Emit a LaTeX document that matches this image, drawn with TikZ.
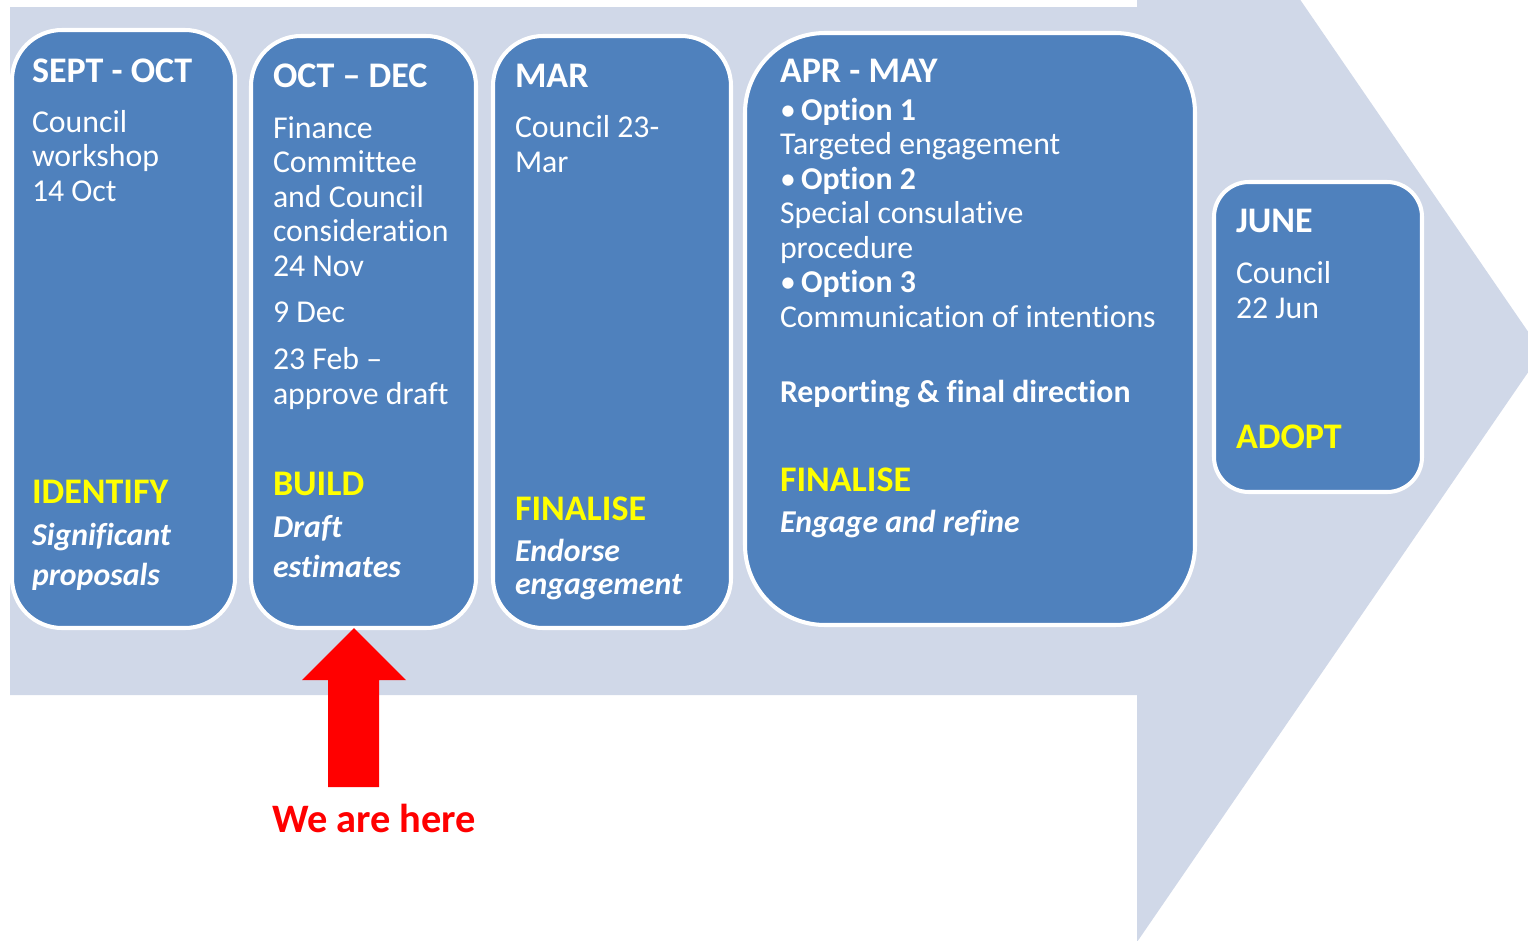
\documentclass[tikz,border=0pt]{standalone}
\usepackage{fontspec}
\setmainfont{Carlito}[Ligatures=NoCommon]
\newcommand{\bodysize}{\fontsize{18.1pt}{19.6pt}\selectfont}
\newcommand{\headsize}{\fontsize{20.5pt}{22pt}\selectfont}
\newcommand{\aimsize}{\fontsize{18.1pt}{22.7pt}\selectfont}
\newcommand{\opt}[1]{\textbullet\hspace{3pt}\textbf{#1}}

\begin{document}
\begin{tikzpicture}[x=0.02cm,y=-0.02cm,
	stagebox/.style={draw=white,line width=2.3pt,fill=boxblue},
	txt/.style={anchor=base west,inner sep=0pt,outer sep=0pt,align=left,text=white,font=\bodysize},
	head/.style={txt,font=\headsize\bfseries},
	goal/.style={txt,font=\headsize\bfseries,text=goalyellow},
	aim/.style={txt,font=\aimsize\bfseries\itshape}]
	\definecolor{arrowgrey}{HTML}{D0D8E8}
	\definecolor{boxblue}{HTML}{4F81BD}
	\definecolor{goalyellow}{HTML}{FFFF00}
	\useasboundingbox (0,0) rectangle (1528,940);
	\fill[white] (0,0) rectangle (1528,940);
	
	% big timeline arrow
	\begin{scope}
		\clip (0,0) rectangle (1528,940);
		\fill[arrowgrey] (10,7) -- (1137,7) -- (1137,-238) -- (1542,352) -- (1137,942) -- (1137,695) -- (10,695) -- cycle;
	\end{scope}
	
	% stages
	\draw[stagebox,rounded corners=1cm] (12,30) rectangle (235,628);
	\draw[stagebox,rounded corners=1cm] (251,36) rectangle (476,628);
	\draw[stagebox,rounded corners=1cm] (493,36) rectangle (731,628);
	\draw[stagebox,rounded corners=1.6cm] (745,33) rectangle (1195,625);
	\draw[stagebox,rounded corners=0.7cm] (1214,182) rectangle (1422,492);
	
	% multi-line texts sit on the baseline of their last line
	% SEPT - OCT
	\node[head] (septhead) at (32,82) {SEPT - OCT};
	\node[txt] (septtxt) at (32,201) {Council\\workshop\\14 Oct};
	\node[goal] (septgoal) at (32,503) {IDENTIFY};
	\node[aim] (septaim) at (32,585) {Significant\\proposals};
	
	% OCT - DEC
	\node[head] (dechead) at (273,87) {OCT – DEC};
	\node[txt] (dectxt) at (273,404) {Finance\\Committee\\and Council\\consideration\\24 Nov\\[7pt]9 Dec\\[7pt]23 Feb –\\approve draft};
	\node[goal] (decgoal) at (273,495) {BUILD};
	\node[aim] (decaim) at (273,577) {Draft\\estimates};
	
	% MAR
	\node[head] (marhead) at (515,87) {MAR};
	\node[txt] (martxt) at (515,172) {Council 23-\\Mar};
	\node[goal] (margoal) at (515,520) {FINALISE};
	\node[aim] (maraim) at (515,594) {Endorse\\[-4pt]engagement};
	
	% APR - MAY
	\node[head] (mayhead) at (780,82) {APR - MAY};
	\node[txt] (maytxt) at (780,327) {\opt{Option 1}\\Targeted engagement\\\opt{Option 2}\\Special consulative\\procedure\\\opt{Option 3}\\Communication of intentions};
	\node[txt,font=\bodysize\bfseries] (mayrep) at (780,402) {Reporting \& final direction};
	\node[goal] (maygoal) at (780,491) {FINALISE};
	\node[aim] (mayaim) at (780,532) {Engage and refine};
	
	% JUNE
	\node[head] (junhead) at (1236,232) {JUNE};
	\node[txt] (juntxt) at (1236,318) {Council\\22 Jun};
	\node[goal] (jungoal) at (1236,448) {ADOPT};
	
	% we are here
	\fill[red] (354,628) -- (406,680) -- (379,680) -- (379,787) -- (328,787) -- (328,680) -- (302,680) -- cycle;
	\node[txt,font=\fontsize{23pt}{25pt}\selectfont\bfseries,text=red] (here) at (272,832) {We are here};
\end{tikzpicture}
\end{document}
